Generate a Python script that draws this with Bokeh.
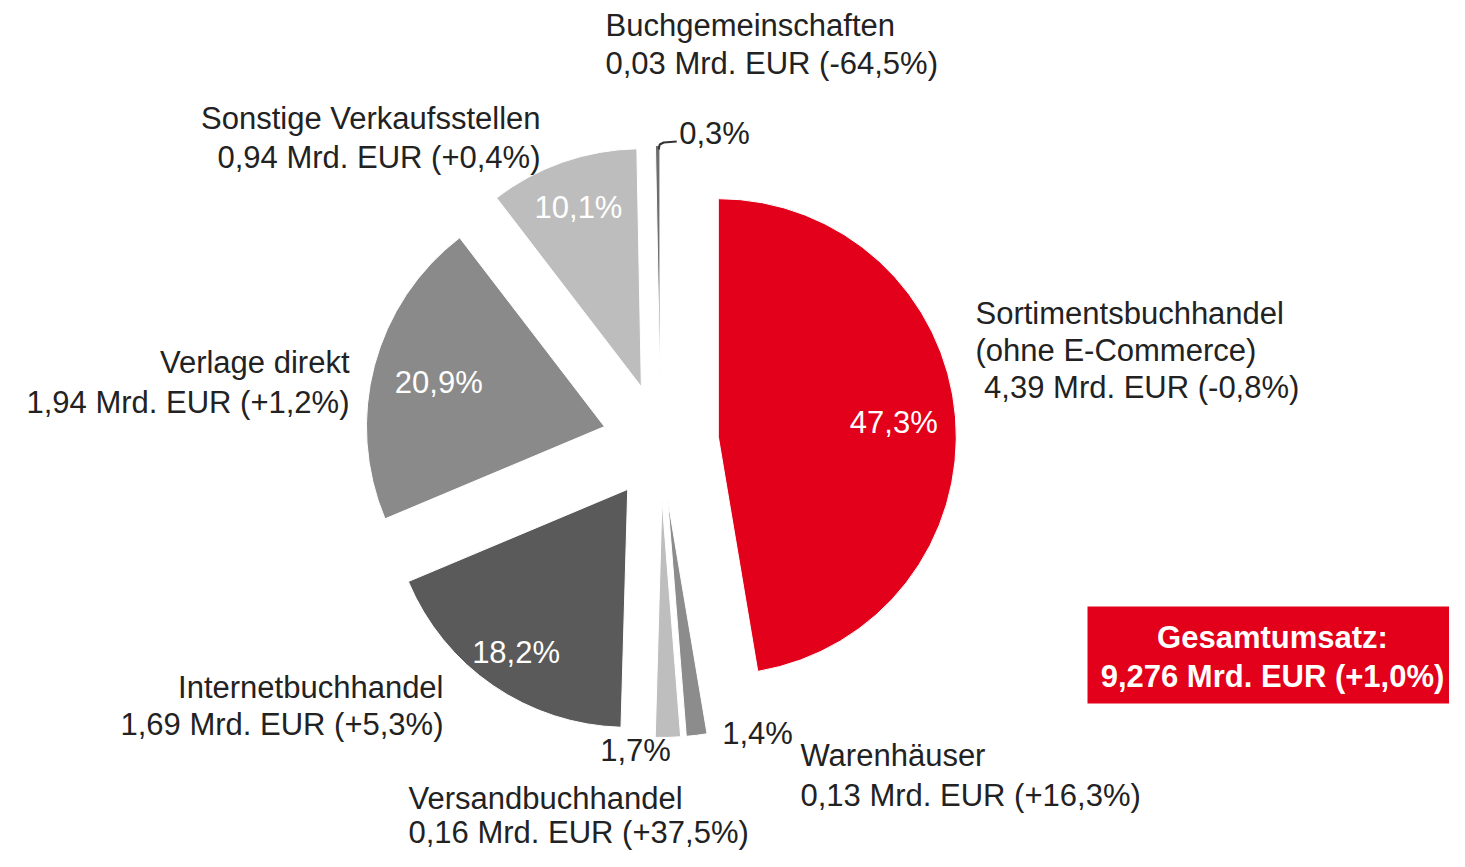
import math
from bokeh.plotting import figure
from bokeh.models import Range1d, ColumnDataSource
from bokeh.core.properties import value
from bokeh.embed import file_html
from bokeh.resources import INLINE

# ---------------- data ----------------
categories = ["Sortimentsbuchhandel", "Warenhäuser", "Versandbuchhandel",
              "Internetbuchhandel", "Verlage direkt", "Sonstige Verkaufsstellen",
              "Buchgemeinschaften"]
subtitles = ["(ohne E-Commerce)", "", "", "", "", "", ""]
shares = [47.3, 1.4, 1.7, 18.2, 20.9, 10.1, 0.3]
share_labels = ["47,3%", "1,4%", "1,7%", "18,2%", "20,9%", "10,1%", "0,3%"]
revenue = ["4,39", "0,13", "0,16", "1,69", "1,94", "0,94", "0,03"]
changes = ["-0,8%", "+16,3%", "+37,5%", "+5,3%", "+1,2%", "+0,4%", "-64,5%"]
total_title = "Gesamtumsatz:"
total_revenue = "9,276"
total_change = "+1,0%"

# ---------------- style / layout ----------------
colors = ["#E2001A", "#8C8C8C", "#BEBEBE", "#5A5A5A", "#8A8A8A", "#BDBDBD", "#6E6E6E"]
FONT = "Liberation Sans"
TXT = "#222222"
FS = "31px"
PAGE_H = 867
W, H = 1449, 851


def Y(yref):
    return PAGE_H - yref


CX, CY = 660, Y(441)
R = 238
EXPLODE = 58
inner_frac = [0.74, None, None, 0.83, 0.72, 0.80, None]
outer_pos = {1: (757, 733), 2: (635, 750), 6: (714, 133)}
# category label anchors: (x, first line y, align, line gap)
cat_anchor = [
    (975, 313, "left", 37),
    (800, 755, "left", 40),
    (408, 798, "left", 34),
    (443, 687, "right", 37),
    (349, 362, "right", 40),
    (540, 118, "right", 39),
    (605, 25, "left", 38),
]

p = figure(width=W, height=H, output_backend="svg", toolbar_location=None,
           x_range=Range1d(0, W), y_range=Range1d(Y(H), Y(0)),
           min_border=0)
p.axis.visible = False
p.grid.visible = False
p.outline_line_color = None
p.background_fill_color = "white"
p.border_fill_color = "white"

total = sum(shares)
cum = 0.0
wx, wy, sa, ea, dirs = [], [], [], [], []
for s in shares:
    t1 = cum / total * 360.0
    t2 = (cum + s) / total * 360.0
    cum += s
    mid = math.radians((t1 + t2) / 2)
    d = (math.sin(mid), math.cos(mid))
    dirs.append(d)
    wx.append(CX + EXPLODE * d[0])
    wy.append(CY + EXPLODE * d[1])
    sa.append(math.radians(90 - t2))
    ea.append(math.radians(90 - t1))

src = ColumnDataSource(dict(x=wx, y=wy, sa=sa, ea=ea, color=colors))
p.wedge(x="x", y="y", radius=R, start_angle="sa", end_angle="ea",
        fill_color="color", line_color="white", line_width=1, source=src)

# inner percentage labels
ix, iy, it = [], [], []
for i, f in enumerate(inner_frac):
    if f is None:
        continue
    ix.append(wx[i] + f * R * dirs[i][0])
    iy.append(wy[i] + f * R * dirs[i][1])
    it.append(share_labels[i])
p.text(x=ix, y=iy, text=it, text_color="white", text_font=value(FONT),
       text_font_size=FS, text_align="center", text_baseline="middle")

# outer percentage labels for small slices
ox, oy, ot = [], [], []
for i, (xr, yr) in outer_pos.items():
    ox.append(xr)
    oy.append(Y(yr))
    ot.append(share_labels[i])
p.text(x=ox, y=oy, text=ot, text_color=TXT, text_font=value(FONT),
       text_font_size=FS, text_align="center", text_baseline="middle")

# leader hook for the 0,3% sliver
tip_x = wx[6] + R * dirs[6][0]
tip_y = wy[6] + R * dirs[6][1]
p.line(x=[tip_x + 1, tip_x + 2, tip_x + 6, tip_x + 19],
       y=[tip_y - 4, tip_y + 1, tip_y + 3, tip_y + 4],
       line_color="#333333", line_width=2)

# category labels
for i, name in enumerate(categories):
    xa, y0, align, gap = cat_anchor[i]
    lines = [name]
    if subtitles[i]:
        lines.append(subtitles[i])
    lines.append(("\u00a0" if subtitles[i] else "") + f"{revenue[i]} Mrd. EUR ({changes[i]})")
    ys = [Y(y0 + k * gap) for k in range(len(lines))]
    p.text(x=[xa] * len(lines), y=ys, text=lines, text_color=TXT,
           text_font=value(FONT), text_font_size=FS, text_align=align,
           text_baseline="middle")

# total box
p.quad(left=[1087], right=[W], top=[Y(606)], bottom=[Y(703)],
       fill_color="#E2001A", line_color=None)
p.text(x=[1272, 1272], y=[Y(637), Y(676)],
       text=[total_title, f"{total_revenue} Mrd. EUR ({total_change})"],
       text_color="white", text_font=value(FONT), text_font_size="31px",
       text_font_style="bold", text_align="center", text_baseline="middle")

open("out.html", "w").write(file_html(p, INLINE))
